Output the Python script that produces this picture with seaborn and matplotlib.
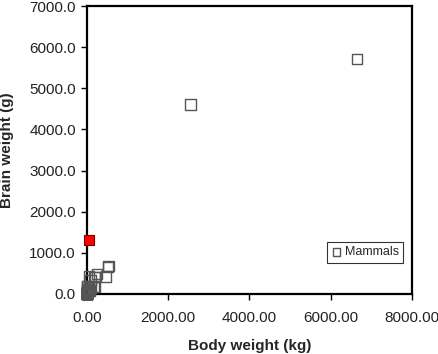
import pandas as pd
import seaborn as sns
import matplotlib.pyplot as plt
from matplotlib.ticker import FormatStrFormatter

# mammals: body weight (kg), brain weight (g)
species = ["African elephant", "African giant pouched rat", "Arctic fox", "Arctic ground squirrel",
           "Asian elephant", "Baboon", "Big brown bat", "Brazilian tapir", "Cat", "Chimpanzee",
           "Chinchilla", "Cow", "Desert hedgehog", "Donkey", "Eastern American mole", "Echidna",
           "European hedgehog", "Galago", "Genet", "Giant armadillo", "Giraffe", "Goat",
           "Golden hamster", "Gorilla", "Gray seal", "Gray wolf", "Ground squirrel", "Guinea pig",
           "Horse", "Jaguar", "Kangaroo", "Lesser short-tailed shrew", "Little brown bat",
           "Mole rat", "Mountain beaver", "Mouse", "Musk shrew", "N. American opossum",
           "Nine-banded armadillo", "Okapi", "Owl monkey", "Patas monkey", "Phalanger", "Pig",
           "Rabbit", "Raccoon", "Rat", "Red fox", "Rhesus monkey", "Rock hyrax (Hetero. b)",
           "Rock hyrax (Procavia hab)", "Roe deer", "Sheep", "Slow loris", "Star nosed mole",
           "Tenrec", "Tree hyrax", "Tree shrew", "Vervet", "Water opossum", "Yellow-bellied marmot"]
body_kg = [6654, 1, 3.385, 0.92, 2547, 10.55, 0.023, 160, 3.3, 52.16,
           0.425, 465, 0.55, 187.1, 0.075, 3, 0.785, 0.2, 1.41, 60, 529, 27.66,
           0.12, 207, 85, 36.33, 0.101, 1.04, 521, 100, 35, 0.005, 0.01,
           0.122, 1.35, 0.023, 0.048, 1.7, 3.5, 250, 0.48, 10, 1.62, 192,
           2.5, 4.288, 0.28, 4.235, 6.8, 0.75, 3.6, 83, 55.5, 1.4, 0.06,
           0.9, 2, 0.104, 4.19, 3.5, 4.05]
brain_g = [5712, 6.6, 44.5, 5.7, 4603, 179.5, 0.3, 169, 25.6, 440,
           6.4, 423, 2.4, 419, 1.2, 25, 3.5, 5, 17.5, 81, 680, 115,
           1, 406, 325, 119.5, 4, 5.5, 655, 157, 56, 0.14, 0.25,
           3, 8.1, 0.4, 0.33, 6.3, 10.8, 490, 15.5, 115, 11.4, 180,
           12.1, 39.2, 1.9, 50.4, 179, 12.3, 21, 98.2, 175, 12.5, 1,
           2.6, 12.3, 2.5, 58, 3.9, 17]

human_body_kg = [62]
human_brain_g = [1320]

df = pd.DataFrame({"species": species, "Body weight (kg)": body_kg, "Brain weight (g)": brain_g})
human = pd.DataFrame({"Body weight (kg)": human_body_kg, "Brain weight (g)": human_brain_g})

sns.set_theme(style="white")
plt.rcParams['font.family'] = ['Liberation Sans', 'DejaVu Sans']

fig = plt.figure(figsize=(4.39, 3.54), dpi=100)
ax = fig.add_axes([0.198, 0.1695, 0.7405, 0.8135])

sns.scatterplot(data=df, x="Body weight (kg)", y="Brain weight (g)", ax=ax,
                marker="s", s=55, facecolor="none", edgecolor="#555555", linewidth=1.0,
                label="Mammals", clip_on=False, zorder=5)
sns.scatterplot(data=human, x="Body weight (kg)", y="Brain weight (g)", ax=ax,
                marker="s", s=55, color="#ff0000", edgecolor="#7a0000", linewidth=0.8,
                legend=False, clip_on=False, zorder=6)

ax.set_xlim(0, 8000)
ax.set_ylim(0, 7000)
ax.set_xticks([0, 2000, 4000, 6000, 8000])
ax.set_yticks(range(0, 7001, 1000))
ax.xaxis.set_major_formatter(FormatStrFormatter('%.2f'))
ax.yaxis.set_major_formatter(FormatStrFormatter('%.1f'))

for sp in ax.spines.values():
    sp.set_color("black")
    sp.set_linewidth(1.6)

ax.tick_params(axis="both", which="major", direction="out", length=4, width=1,
               color="black", labelsize=11, labelcolor="#222222", bottom=True, left=True)
ax.tick_params(axis="x", pad=8)
ax.tick_params(axis="y", pad=4)

ax.set_xlabel("Body weight (kg)", fontsize=11, fontweight="bold", labelpad=10)
ax.set_ylabel("Brain weight (g)", fontsize=11, fontweight="bold", labelpad=11)

leg = ax.legend(loc="upper left", bbox_to_anchor=(0.738, 0.181), borderaxespad=0,
                fontsize=9, frameon=True, fancybox=False, handlelength=0.8,
                handletextpad=0.3, borderpad=0.35, markerscale=0.7)
leg.get_frame().set_edgecolor("black")
leg.get_frame().set_linewidth(0.8)

fig.savefig("out.png", dpi=100)
